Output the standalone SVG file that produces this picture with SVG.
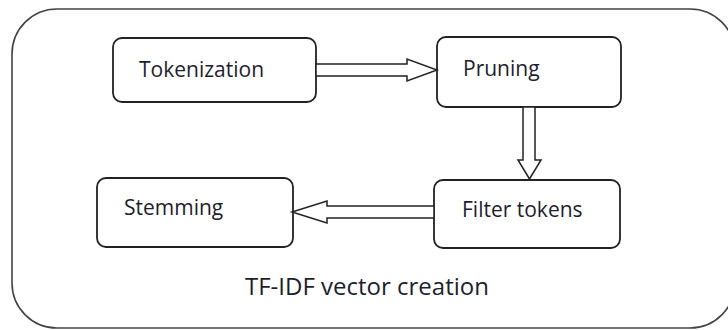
<svg xmlns="http://www.w3.org/2000/svg" width="728" height="330" viewBox="0 0 728 330">
  <style>
    .frame { fill: none; stroke: #444; stroke-width: 1.6; }
    .box { fill: #fff; stroke: #222; stroke-width: 1.8; }
    .arrow { fill: #fff; stroke: #222; stroke-width: 1.5; stroke-linejoin: miter; }
    .label { font-family: "Open Sans", "Noto Sans", "Liberation Sans", sans-serif; font-size: 21px; fill: #1e1e2e; }
    .caption { font-family: "Open Sans", "Noto Sans", "Liberation Sans", sans-serif; font-size: 24px; fill: #1e1e2e; }
  </style>
  <rect width="728" height="330" fill="#fff"/>

  <!-- enclosing process frame -->
  <g id="frame">
    <rect class="frame" x="12" y="9" width="723" height="319" rx="45" ry="45"/>
    <text class="caption" x="245" y="295">TF-IDF vector creation</text>
  </g>

  <g id="tokenization">
    <rect class="box" x="113" y="38" width="203" height="64" rx="9" ry="9"/>
    <text class="label" x="139" y="77">Tokenization</text>
  </g>

  <g id="pruning">
    <rect class="box" x="437" y="37" width="184" height="70" rx="9" ry="9"/>
    <text class="label" x="463" y="76">Pruning</text>
  </g>

  <g id="filter-tokens">
    <rect class="box" x="434" y="180" width="186" height="68" rx="9" ry="9"/>
    <text class="label" x="462" y="217">Filter tokens</text>
  </g>

  <g id="stemming">
    <rect class="box" x="97" y="178" width="196" height="69" rx="9" ry="9"/>
    <text class="label" x="124" y="215">Stemming</text>
  </g>

  <!-- hollow block arrows between steps -->
  <g id="connectors">
    <polygon class="arrow" points="316,64 407,64 407,59 437,70 407,81 407,76 316,76"/>
    <polygon class="arrow" points="523,107 523,160 518,160 529.5,179 541,160 535,160 535,107"/>
    <polygon class="arrow" points="434,206 327,206 327,201 292,212 327,223 327,218 434,218"/>
  </g>
</svg>
